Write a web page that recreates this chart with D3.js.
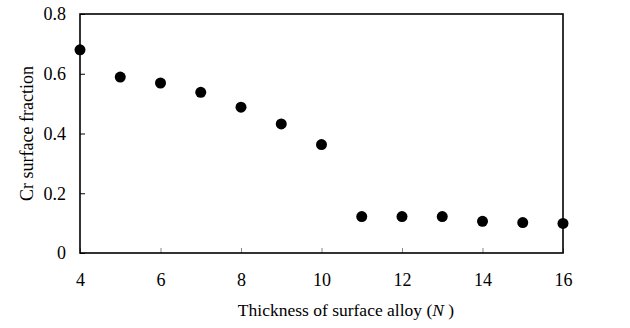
<!DOCTYPE html>
<html>
<head>
<meta charset="utf-8">
<script src="https://cdn.jsdelivr.net/npm/d3@7"></script>
<style>
  body { margin: 0; background: #fff; }
  svg { display: block; font-family: "Liberation Serif", "Times New Roman", serif; }
</style>
</head>
<body>
<div id="chart"></div>
<script>
// thickness N of the surface alloy
const thickness = [4, 5, 6, 7, 8, 9, 10, 11, 12, 13, 14, 15, 16];
// Cr fraction at the surface
const crFraction = [0.68, 0.589, 0.569, 0.538, 0.488, 0.432, 0.363, 0.122, 0.122, 0.122, 0.106, 0.102, 0.099];
const xTicks = [4, 6, 8, 10, 12, 14, 16];
const yTicks = [0, 0.2, 0.4, 0.6, 0.8];

const W = 630, H = 328;
const margin = {top: 14, right: 67, bottom: 75, left: 80};
const w = W - margin.left - margin.right;
const h = H - margin.top - margin.bottom;
const serif = "'Liberation Serif', 'Times New Roman', serif";

const svg = d3.select("#chart")
  .append("svg")
  .attr("width", W)
  .attr("height", H);

const g = svg.append("g")
  .attr("transform", `translate(${margin.left},${margin.top})`);

const x = d3.scaleLinear().domain([4, 16]).range([0, w]);
const y = d3.scaleLinear().domain([0, 0.8]).range([h, 0]);

// x axis, ticks pointing up into the plot
const xAxis = g.append("g")
  .attr("transform", `translate(0,${h})`)
  .call(d3.axisBottom(x).tickValues(xTicks).tickSizeInner(-5).tickSizeOuter(0).tickPadding(20));
xAxis.attr("font-family", serif).attr("font-size", 18);
xAxis.select(".domain").remove();
xAxis.selectAll(".tick line").attr("stroke", "#888");
xAxis.selectAll("text").attr("fill", "#000");

// y axis, ticks pointing right into the plot
const yAxis = g.append("g")
  .call(d3.axisLeft(y).tickValues(yTicks).tickFormat(d => d === 0 ? "0" : d3.format(".1f")(d))
    .tickSizeInner(-5).tickSizeOuter(0).tickPadding(14));
yAxis.attr("font-family", serif).attr("font-size", 18);
yAxis.select(".domain").remove();
yAxis.selectAll("text").attr("fill", "#000");

// frame
g.append("rect")
  .attr("width", w)
  .attr("height", h)
  .attr("fill", "none")
  .attr("stroke", "#000")
  .attr("stroke-width", 1.6);

// points
g.selectAll("circle.pt")
  .data(thickness)
  .enter()
  .append("circle")
  .attr("class", "pt")
  .attr("cx", d => x(d))
  .attr("cy", (d, i) => y(crFraction[i]))
  .attr("r", 5.5)
  .attr("fill", "#000");

// x axis label (sits a bit right of the plot centre in the original)
const xl = svg.append("text")
  .attr("x", 346)
  .attr("y", 316)
  .attr("text-anchor", "middle")
  .attr("font-size", 17.5);
xl.append("tspan").text("Thickness of surface alloy (");
xl.append("tspan").attr("font-style", "italic").text("N");
xl.append("tspan").text(" )");

// y axis label
svg.append("text")
  .attr("transform", `translate(33,${margin.top + h / 2}) rotate(-90)`)
  .attr("text-anchor", "middle")
  .attr("font-size", 18)
  .text("Cr surface fraction");
</script>
</body>
</html>
